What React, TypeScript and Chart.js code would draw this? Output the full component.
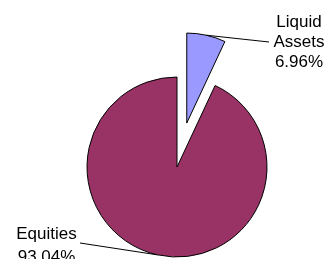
import React, { useEffect, useRef } from "react";
import { Chart, registerables } from "chart.js";

Chart.register(...registerables);

const categories: string[] = ["Liquid Assets", "Equities"];
const labelLines: string[][] = [["Liquid", "Assets"], ["Equities"]];
const values: number[] = [6.96, 93.04];
const colors: string[] = ["#9999FF", "#993366"];
const explode: number[] = [45, 0];

const W = 325;
const H = 259;

// Move exploded slices outward along their bisector (keeps radius and sharp tip).
const explodePlugin = {
  id: "explodePlugin",
  beforeDatasetsDraw(chart: any) {
    const meta = chart.getDatasetMeta(0);
    const ca = chart.chartArea;
    const cx = (ca.left + ca.right) / 2 + (meta.controller.offsetX || 0);
    const cy = (ca.top + ca.bottom) / 2 + (meta.controller.offsetY || 0);
    meta.data.forEach((arc: any, i: number) => {
      const mid = (arc.startAngle + arc.endAngle) / 2;
      const e = explode[i] || 0;
      arc.x = cx + Math.cos(mid) * e;
      arc.y = cy + Math.sin(mid) * e;
    });
  },
};

const labelPlugin = {
  id: "pieLabels",
  afterDatasetsDraw(chart: any) {
    const ctx = chart.ctx as CanvasRenderingContext2D;
    const meta = chart.getDatasetMeta(0);
    const anchors = [
      { cx: 299, base: 27, lh: 20, ex: 269, ey: 42 },
      { cx: 46.5, base: 239, lh: 22.5, ex: 80, ey: 243 },
    ];
    ctx.save();
    ctx.font = '17px "Liberation Sans", Arial, sans-serif';
    ctx.fillStyle = "#000";
    ctx.textAlign = "center";
    ctx.textBaseline = "alphabetic";
    meta.data.forEach((arc: any, i: number) => {
      const mid = (arc.startAngle + arc.endAngle) / 2;
      const mx = arc.x + Math.cos(mid) * arc.outerRadius;
      const my = arc.y + Math.sin(mid) * arc.outerRadius;
      const a = anchors[i];
      ctx.beginPath();
      ctx.strokeStyle = "#000";
      ctx.lineWidth = 1;
      ctx.moveTo(mx, my);
      ctx.lineTo(a.ex, a.ey);
      ctx.stroke();
      const lines = [...labelLines[i], values[i].toFixed(2) + "%"];
      lines.forEach((t, k) => {
        ctx.fillText(t, a.cx, a.base + k * a.lh);
      });
    });
    ctx.restore();
  },
};

export default function App() {
  const ref = useRef<HTMLCanvasElement | null>(null);
  useEffect(() => {
    if (!ref.current) return;
    const chart = new Chart(ref.current, {
      type: "pie",
      data: {
        labels: categories,
        datasets: [
          {
            data: values,
            backgroundColor: colors,
            borderColor: "#000000",
            borderWidth: 1,
            borderJoinStyle: "miter",
            clip: false,
          } as any,
        ],
      },
      options: {
        responsive: false,
        animation: false,
        events: [],
        rotation: 0,
        radius: 90,
        layout: { padding: { left: 29, right: 0, top: 75, bottom: 0 } },
        plugins: {
          legend: { display: false },
          tooltip: { enabled: false },
        },
      } as any,
      plugins: [explodePlugin, labelPlugin],
    });
    return () => chart.destroy();
  }, []);
  return (
    <div style={{ position: "fixed", left: 0, top: 0, width: W, height: H, background: "#fff" }}>
      <canvas ref={ref} width={W} height={H} style={{ display: "block", width: W, height: H }} />
    </div>
  );
}
